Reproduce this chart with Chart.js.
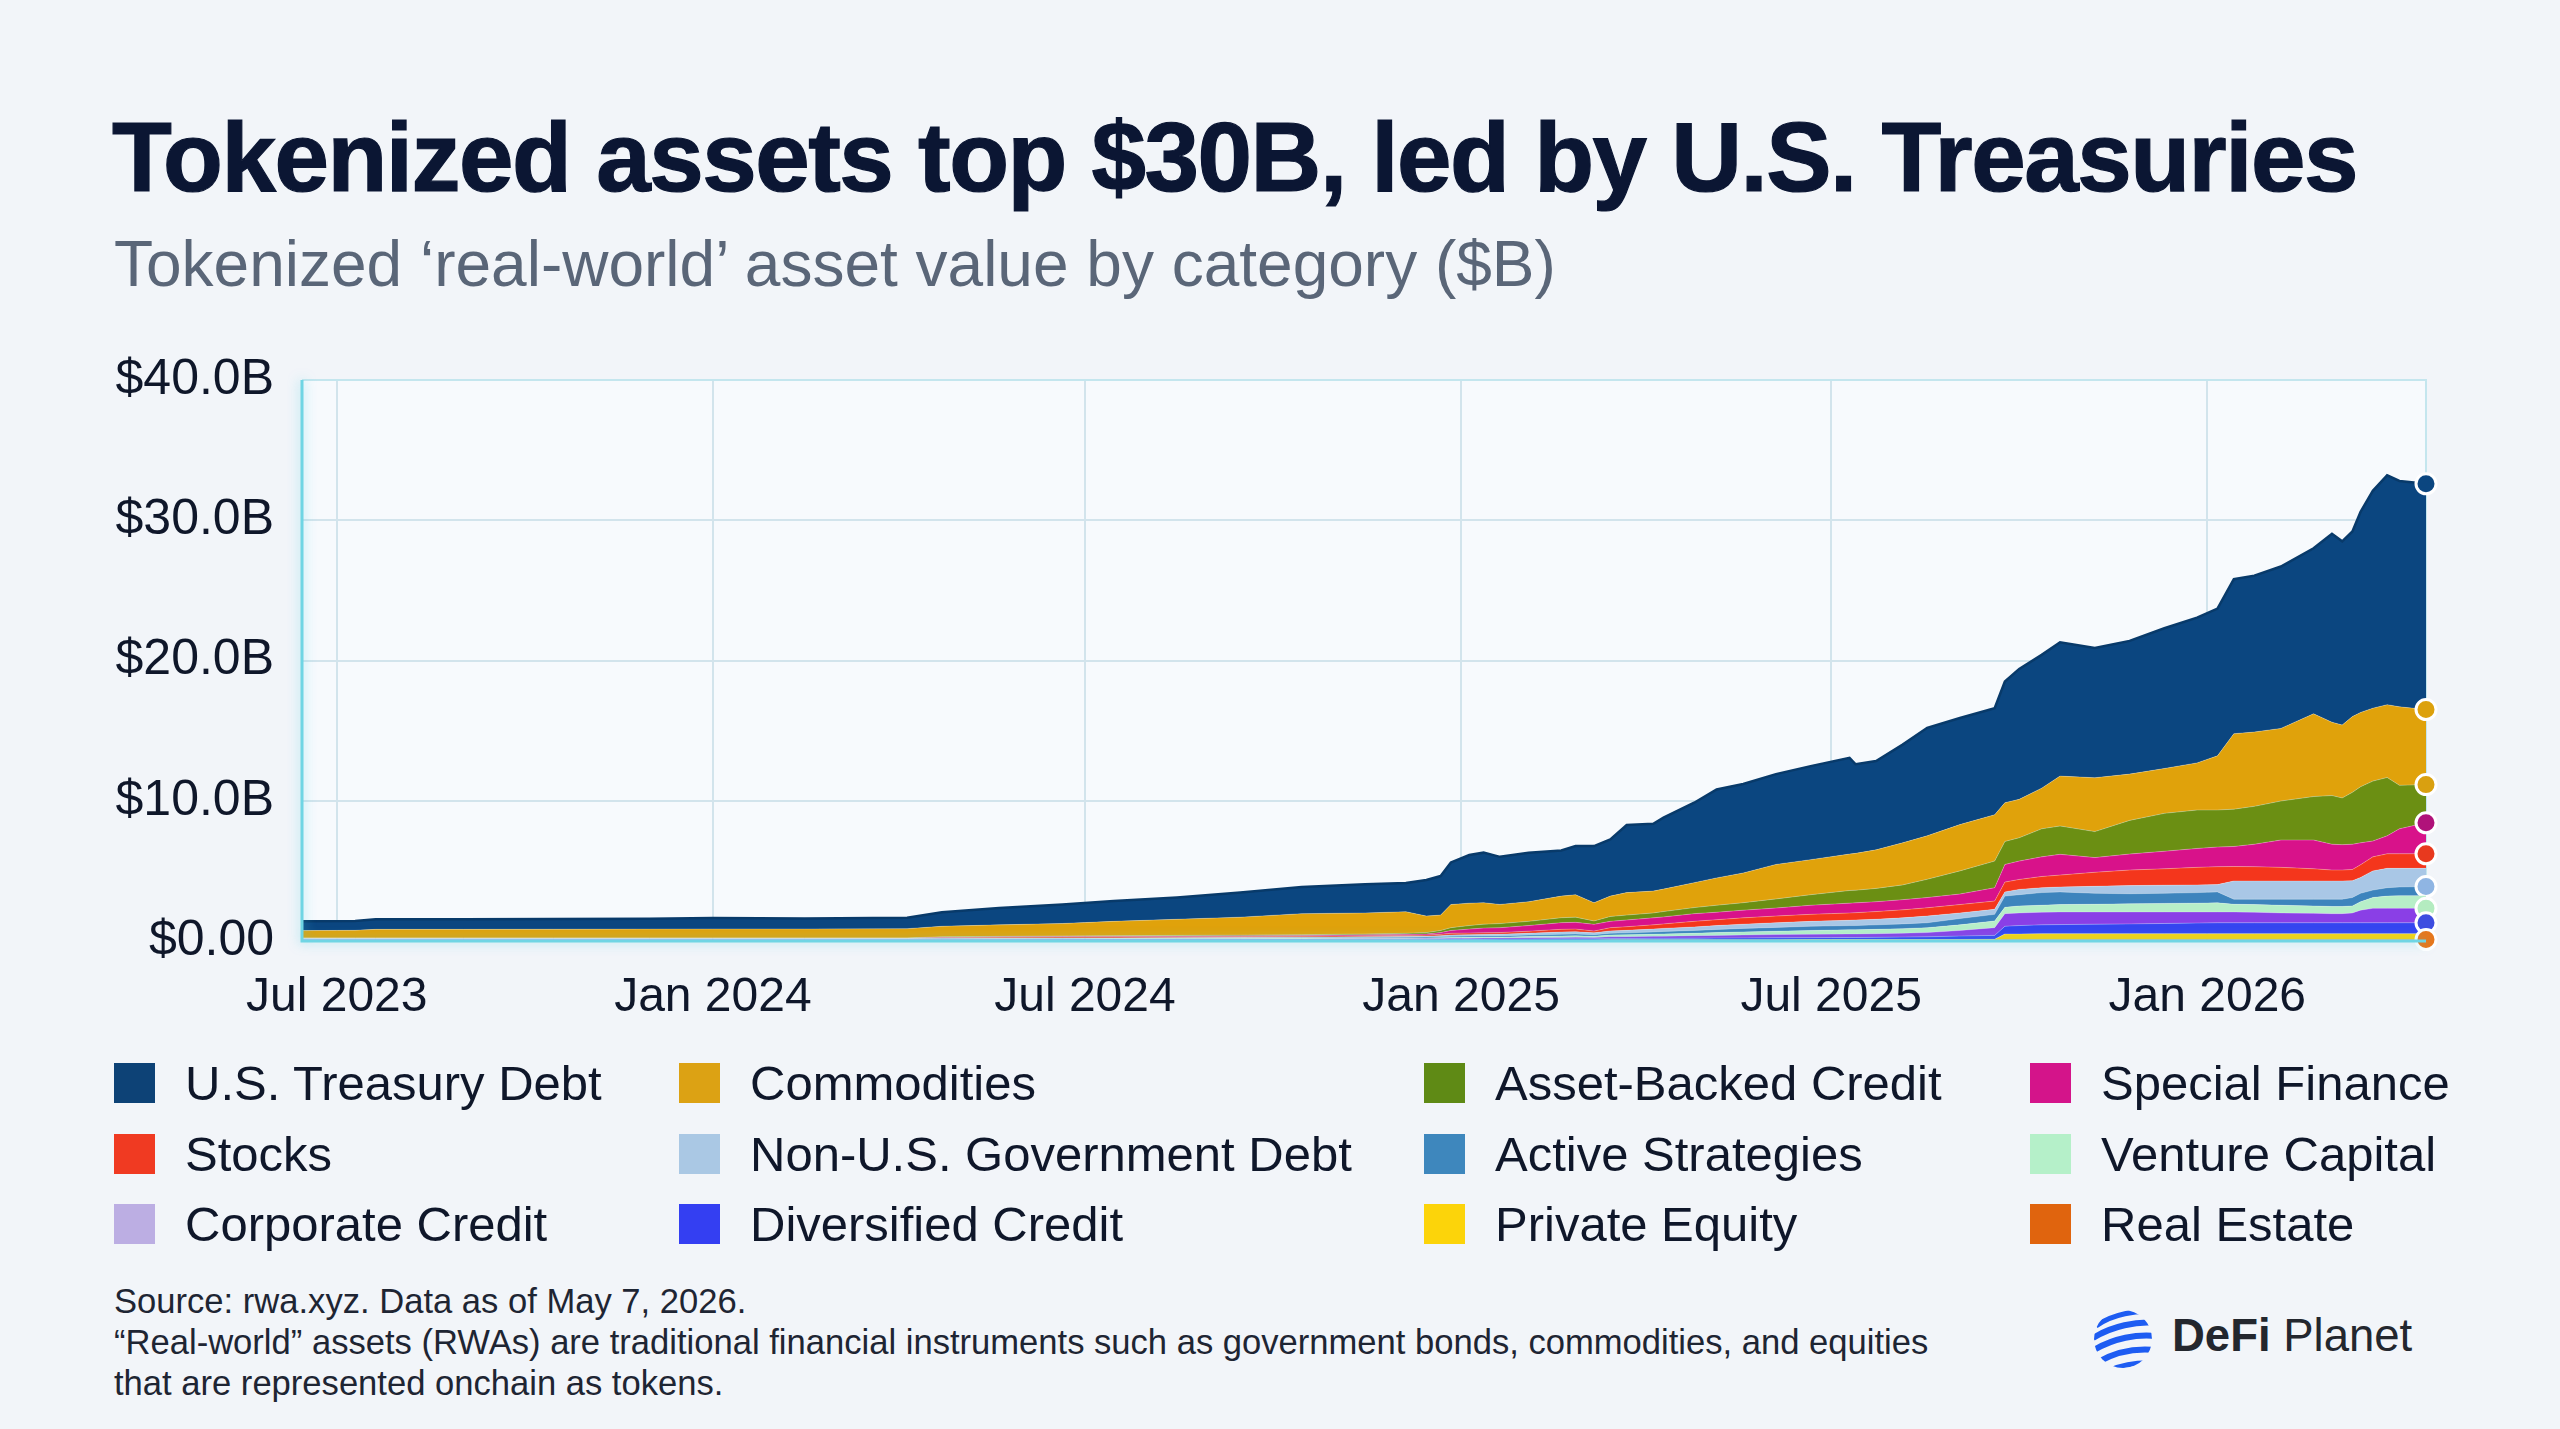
<!DOCTYPE html>
<html>
<head>
<meta charset="utf-8">
<script src="https://cdn.jsdelivr.net/npm/chart.js@4.4.1/dist/chart.umd.min.js"></script>
<style>
html,body{margin:0;padding:0;background:#f2f5f9;}
body{width:2560px;height:1429px;position:relative;overflow:hidden;font-family:"Liberation Sans",Arial,sans-serif;}
#title{position:absolute;left:112px;top:108px;font-size:98px;font-weight:700;letter-spacing:-1.5px;line-height:1;color:#0b1633;white-space:nowrap;-webkit-text-stroke:1.2px #0b1633;}
#subtitle{position:absolute;left:114px;top:232px;font-size:64px;line-height:1;color:#5a6678;white-space:nowrap;}
#chartWrap{position:absolute;left:0;top:322px;width:2560px;height:719px;}
.li{position:absolute;display:flex;align-items:center;height:48px;font-size:49px;color:#0f172a;white-space:nowrap;}
.sw{width:41px;height:40px;margin-right:30px;flex:none;}
#foot{position:absolute;left:114px;top:1281px;font-size:34.6px;line-height:41px;color:#1e2533;white-space:nowrap;}
#logoText{position:absolute;left:2172px;top:1313px;font-size:45.5px;line-height:1;color:#23272e;white-space:nowrap;}
#logoText b{font-weight:700;}
</style>
</head>
<body>
<div id="title">Tokenized assets top $30B, led by U.S. Treasuries</div>
<div id="subtitle">Tokenized ‘real-world’ asset value by category ($B)</div>
<div id="chartWrap"><canvas id="c" width="2560" height="719"></canvas></div>
<div id="legend"></div>
<div id="foot">Source: rwa.xyz. Data as of May 7, 2026.<br>“Real-world” assets (RWAs) are traditional financial instruments such as government bonds, commodities, and equities<br>that are represented onchain as tokens.</div>
<svg width="62" height="66" viewBox="0 0 62 66" style="position:absolute;left:2092px;top:1306px">
  <defs><clipPath id="globe"><circle cx="31" cy="33" r="29"/></clipPath></defs>
  <g clip-path="url(#globe)" fill="none" stroke="#1d5cf2">
    <path d="M4 20 C 20 8, 45 4, 64 6" stroke-width="5"/>
    <path d="M1 32 C 20 20, 45 15, 64 17" stroke-width="6"/>
    <path d="M2 44 C 22 32, 45 28, 64 30" stroke-width="6"/>
    <path d="M6 56 C 25 45, 45 42, 64 44" stroke-width="6"/>
    <path d="M14 66 C 30 58, 48 56, 64 57" stroke-width="5"/>
  </g>
</svg>
<div id="logoText"><b>DeFi</b> Planet</div>

<script>
// ---------- DATA ----------
const dates = [
"2023-06-14","2023-07-10","2023-07-20","2023-09-01","2023-10-15","2023-12-01","2024-01-01","2024-02-15","2024-04-05",
"2024-04-22","2024-05-20","2024-06-20","2024-07-15","2024-08-15","2024-09-15","2024-10-15","2024-11-15","2024-12-05","2024-12-15","2024-12-22",
"2024-12-27","2025-01-05","2025-01-12","2025-01-20","2025-02-03","2025-02-19","2025-02-26","2025-03-07","2025-03-15","2025-03-23",
"2025-04-05","2025-04-10","2025-04-25","2025-05-06","2025-05-19","2025-06-04","2025-06-21","2025-07-10","2025-07-13","2025-07-23",
"2025-08-05","2025-08-17","2025-09-02","2025-09-19","2025-09-24","2025-10-01","2025-10-12","2025-10-21","2025-11-07","2025-11-24",
"2025-12-11","2025-12-27","2026-01-06","2026-01-14","2026-01-24","2026-02-06","2026-02-22","2026-03-03","2026-03-08","2026-03-13",
"2026-03-17","2026-03-23","2026-03-30","2026-04-05","2026-04-18"];

const treasury = [0.66,0.67,0.72,0.72,0.73,0.73,0.78,0.74,0.78,1.00,1.20,1.35,1.45,1.55,1.75,1.90,2.04,2.04,2.57,2.78,3.00,3.43,3.57,3.39,3.50,3.26,3.47,4.04,4.05,4.82,4.80,5.10,5.70,6.30,6.35,6.44,6.67,6.86,6.35,6.33,7.00,7.70,7.60,7.60,8.64,9.30,9.50,9.54,9.26,9.50,10.00,10.36,10.50,11.02,11.15,11.54,11.80,13.43,13.10,13.20,14.30,15.50,16.35,16.10,16.10];
const commodities = [0.52,0.54,0.61,0.61,0.62,0.63,0.64,0.64,0.66,0.75,0.82,0.89,1.02,1.15,1.28,1.50,1.50,1.54,1.18,1.10,1.65,1.60,1.53,1.37,1.40,1.54,1.60,1.30,1.45,1.60,1.56,1.60,1.78,1.95,2.12,2.46,2.50,2.60,2.63,2.75,3.00,3.10,3.30,3.30,2.76,2.74,2.90,3.56,3.84,3.30,3.20,3.36,3.86,5.38,5.30,5.18,5.90,5.23,5.20,5.40,5.30,5.20,5.19,5.60,5.35];
const assetBacked = [0.02,0.02,0.02,0.02,0.02,0.02,0.02,0.02,0.02,0.03,0.03,0.04,0.04,0.04,0.04,0.05,0.06,0.07,0.10,0.15,0.20,0.25,0.28,0.29,0.30,0.35,0.37,0.24,0.35,0.35,0.35,0.38,0.43,0.50,0.53,0.65,0.75,0.90,0.90,0.95,1.05,1.30,1.65,1.90,1.64,1.66,2.00,2.02,1.85,2.40,2.70,2.74,2.64,2.66,2.70,2.78,3.10,3.47,3.33,3.70,4.00,4.27,4.16,3.10,2.72];
const specialFinance = [0.01,0.01,0.01,0.01,0.01,0.01,0.01,0.01,0.01,0.03,0.03,0.04,0.04,0.05,0.06,0.06,0.07,0.08,0.08,0.12,0.20,0.28,0.33,0.35,0.40,0.48,0.48,0.48,0.45,0.48,0.50,0.50,0.55,0.53,0.55,0.57,0.65,0.70,0.70,0.70,0.73,0.73,0.75,0.95,1.26,1.31,1.40,1.48,1.05,1.14,1.25,1.35,1.40,1.43,1.60,1.95,2.05,1.84,1.81,1.80,1.56,1.13,1.28,1.78,2.21];
const stocks = [0.02,0.02,0.02,0.02,0.02,0.02,0.02,0.02,0.02,0.05,0.07,0.07,0.08,0.07,0.07,0.07,0.07,0.08,0.08,0.10,0.13,0.12,0.12,0.12,0.15,0.19,0.19,0.13,0.23,0.26,0.30,0.32,0.40,0.42,0.45,0.48,0.50,0.52,0.52,0.55,0.57,0.59,0.60,0.59,0.70,0.71,0.80,0.85,1.00,1.11,1.17,1.25,1.28,1.03,1.02,0.97,0.87,0.78,0.78,0.80,0.91,1.00,1.04,1.04,1.04];
const nonUSGov = [0.02,0.02,0.02,0.02,0.02,0.02,0.02,0.02,0.02,0.02,0.02,0.02,0.02,0.03,0.03,0.04,0.05,0.05,0.06,0.08,0.09,0.10,0.11,0.12,0.13,0.16,0.16,0.13,0.17,0.18,0.21,0.22,0.25,0.28,0.30,0.33,0.35,0.38,0.40,0.40,0.43,0.48,0.40,0.36,0.30,0.38,0.35,0.35,0.50,0.58,0.58,0.55,0.52,1.30,1.30,1.30,1.30,1.30,1.30,1.20,1.13,1.37,1.38,1.33,1.30];
const activeStrategies = [0.01,0.01,0.01,0.01,0.01,0.01,0.01,0.01,0.01,0.02,0.02,0.03,0.03,0.03,0.04,0.04,0.05,0.06,0.06,0.07,0.08,0.09,0.09,0.09,0.10,0.12,0.13,0.11,0.13,0.14,0.16,0.18,0.20,0.22,0.25,0.27,0.30,0.30,0.30,0.32,0.34,0.35,0.45,0.47,0.80,0.80,0.90,0.90,0.78,0.72,0.72,0.75,0.78,0.36,0.38,0.43,0.48,0.52,0.52,0.60,0.60,0.53,0.60,0.62,0.65];
const ventureCapital = [0.02,0.02,0.02,0.02,0.02,0.02,0.02,0.02,0.02,0.02,0.03,0.02,0.03,0.04,0.03,0.04,0.04,0.05,0.05,0.05,0.06,0.06,0.06,0.05,0.08,0.11,0.11,0.09,0.12,0.13,0.15,0.16,0.17,0.20,0.22,0.24,0.27,0.30,0.30,0.31,0.32,0.35,0.40,0.48,0.45,0.50,0.50,0.53,0.55,0.58,0.61,0.63,0.65,0.55,0.55,0.55,0.53,0.51,0.51,0.50,0.60,0.77,0.87,0.90,0.90];
const corporateCredit = [0.03,0.03,0.03,0.03,0.03,0.03,0.03,0.03,0.03,0.04,0.03,0.04,0.04,0.04,0.05,0.05,0.05,0.05,0.06,0.06,0.07,0.07,0.08,0.08,0.09,0.09,0.10,0.09,0.12,0.13,0.14,0.15,0.18,0.19,0.21,0.23,0.24,0.25,0.25,0.26,0.28,0.30,0.40,0.55,0.90,0.90,0.90,0.90,0.87,0.85,0.82,0.79,0.77,0.77,0.75,0.70,0.67,0.65,0.65,0.70,0.90,1.03,1.03,1.03,1.03];
const diversifiedCredit = [0.02,0.02,0.02,0.02,0.02,0.02,0.02,0.02,0.02,0.02,0.03,0.03,0.03,0.03,0.03,0.03,0.04,0.04,0.04,0.05,0.05,0.05,0.05,0.06,0.07,0.08,0.08,0.08,0.09,0.09,0.10,0.10,0.11,0.12,0.13,0.14,0.14,0.15,0.15,0.16,0.18,0.20,0.24,0.28,0.55,0.60,0.63,0.65,0.68,0.70,0.73,0.76,0.78,0.78,0.78,0.78,0.78,0.78,0.78,0.78,0.78,0.78,0.78,0.78,0.78];
const privateEquity = [0.03,0.03,0.03,0.03,0.03,0.03,0.03,0.03,0.03,0.03,0.03,0.03,0.03,0.03,0.03,0.03,0.03,0.03,0.03,0.03,0.03,0.04,0.04,0.04,0.04,0.04,0.04,0.04,0.05,0.05,0.05,0.05,0.05,0.05,0.05,0.05,0.05,0.05,0.05,0.05,0.05,0.05,0.06,0.07,0.40,0.40,0.42,0.42,0.42,0.42,0.42,0.42,0.42,0.42,0.42,0.42,0.42,0.42,0.42,0.42,0.42,0.42,0.42,0.42,0.42];
const realEstate = [0.04,0.04,0.04,0.04,0.04,0.04,0.04,0.04,0.04,0.04,0.04,0.04,0.04,0.04,0.04,0.04,0.04,0.04,0.04,0.04,0.04,0.04,0.04,0.04,0.04,0.04,0.04,0.04,0.04,0.04,0.04,0.04,0.04,0.04,0.04,0.04,0.05,0.05,0.05,0.05,0.05,0.05,0.05,0.05,0.10,0.10,0.10,0.10,0.10,0.10,0.10,0.10,0.10,0.10,0.10,0.10,0.10,0.10,0.10,0.10,0.10,0.10,0.10,0.10,0.10];

// Legend order (top of stack first)
const seriesNames = ["U.S. Treasury Debt","Commodities","Asset-Backed Credit","Special Finance","Stocks","Non-U.S. Government Debt","Active Strategies","Venture Capital","Corporate Credit","Diversified Credit","Private Equity","Real Estate"];
const seriesValues = [treasury,commodities,assetBacked,specialFinance,stocks,nonUSGov,activeStrategies,ventureCapital,corporateCredit,diversifiedCredit,privateEquity,realEstate];

const xMin = "2023-06-14", xMax = "2026-04-18";
const xTickDates = ["2023-07-01","2024-01-01","2024-07-01","2025-01-01","2025-07-01","2026-01-01"];
const xTickLabels = ["Jul 2023","Jan 2024","Jul 2024","Jan 2025","Jul 2025","Jan 2026"];
const yTickValues = [0,10,20,30,40];
const yTickLabels = ["$0.00","$10.0B","$20.0B","$30.0B","$40.0B"];

// ---------- STYLES ----------
const fillColors   = ["#0b4680","#e0a20b","#6b8f13","#d8128a","#f4361c","#a9c7e6","#3d84bd","#b7efc8","#8a3fe6","#3545f0","#fcd30a","#e2650e"];
const swatchColors = ["#0d4276","#dca214","#5f8a15","#d4148a","#f03a22","#aac8e4","#3e87bd","#b5f0c9","#bcaee3","#343ff2","#fcd40a","#e0640e"];
const markerColors = ["#0b4680","#dca10c","#d9a010","#b0127a","#e8391e",null,"#8fb5e3",null,"#b4ecc0","#3d4de0",null,"#e8761a"];
const legendCols = [114,679,1424,2030];
const legendRows = [1083,1154,1224];

// ---------- LEGEND ----------
const legendEl = document.getElementById('legend');
seriesNames.forEach((name,i)=>{
  const d = document.createElement('div');
  d.className='li';
  d.style.left = legendCols[i%4]+'px';
  d.style.top = (legendRows[Math.floor(i/4)]-24)+'px';
  d.innerHTML = '<span class="sw" style="background:'+swatchColors[i]+'"></span><span>'+name+'</span>';
  legendEl.appendChild(d);
});

// ---------- CHART ----------
const xs = dates.map(d=>Date.parse(d));
const tickTimes = xTickDates.map(d=>Date.parse(d));
const lastIdx = dates.length-1;
const datasets = [];
for (let k = seriesNames.length-1; k >= 0; k--) {
  const vals = seriesValues[k];
  const mc = markerColors[k];
  datasets.push({
    label: seriesNames[k],
    data: vals.map((v,j)=>({x:xs[j], y:v})),
    backgroundColor: fillColors[k],
    borderColor: k===0 ? '#083a6a' : 'rgba(255,255,255,0.25)',
    borderWidth: k===0 ? 2.5 : 1,
    fill: datasets.length===0 ? 'origin' : '-1',
    tension: 0,
    clip: false,
    pointRadius: ctx => (mc && ctx.dataIndex===lastIdx) ? 10 : 0,
    pointHoverRadius: 0,
    pointBackgroundColor: mc || fillColors[k],
    pointBorderColor: '#ffffff',
    pointBorderWidth: 3
  });
}

const framePlugin = {
  id:'frame',
  beforeDraw(chart){
    const {ctx, chartArea:a} = chart;
    ctx.save();
    ctx.fillStyle = '#f7fafd';
    ctx.fillRect(a.left, a.top, a.right-a.left, a.bottom-a.top);
    ctx.restore();
  },
  beforeDatasetsDraw(chart){
    const {ctx, chartArea:a} = chart;
    ctx.save();
    ctx.strokeStyle = '#c4e6ee';
    ctx.lineWidth = 2;
    ctx.beginPath();
    ctx.moveTo(a.left, a.top); ctx.lineTo(a.right, a.top); ctx.lineTo(a.right, a.bottom);
    ctx.stroke();
    ctx.restore();
  },
  afterDatasetsDraw(chart){
    const {ctx, chartArea:a} = chart;
    ctx.save();
    ctx.shadowColor = 'rgba(70,205,228,0.6)';
    ctx.shadowBlur = 12;
    ctx.strokeStyle = '#6fd5e4';
    ctx.lineWidth = 3;
    ctx.beginPath();
    ctx.moveTo(a.left, a.top); ctx.lineTo(a.left, a.bottom); ctx.lineTo(a.right, a.bottom);
    ctx.stroke();
    ctx.restore();
  }
};

new Chart(document.getElementById('c'), {
  type: 'line',
  data: { datasets },
  options: {
    responsive: false,
    animation: false,
    layout: { padding: { top: 39, right: 134, bottom: 0, left: 0 } },
    plugins: { legend: { display: false }, tooltip: { enabled: false } },
    scales: {
      x: {
        type: 'linear',
        min: Date.parse(xMin),
        max: Date.parse(xMax),
        afterBuildTicks: axis => { axis.ticks = tickTimes.map(v=>({value:v})); },
        afterFit: s => { s.height = 100; },
        ticks: {
          autoSkip: false, maxRotation: 0, padding: 28,
          color: '#0f172a',
          font: { family: '"Liberation Sans", Arial, sans-serif', size: 48 },
          callback: v => { const i = tickTimes.indexOf(v); return i>=0 ? xTickLabels[i] : ''; }
        },
        grid: { color: '#d2e4ec', lineWidth: 2, drawTicks: false },
        border: { display: false }
      },
      y: {
        stacked: true,
        min: 0, max: 40,
        afterBuildTicks: axis => { axis.ticks = yTickValues.map(v=>({value:v})); },
        afterFit: s => { s.width = 302; },
        ticks: {
          padding: 28,
          color: '#0f172a',
          font: { family: '"Liberation Sans", Arial, sans-serif', size: 50 },
          callback: v => { const i = yTickValues.indexOf(v); return i>=0 ? yTickLabels[i] : ''; }
        },
        grid: { color: '#d2e4ec', lineWidth: 2, drawTicks: false },
        border: { display: false }
      }
    }
  },
  plugins: [framePlugin]
});
</script>
</body>
</html>
